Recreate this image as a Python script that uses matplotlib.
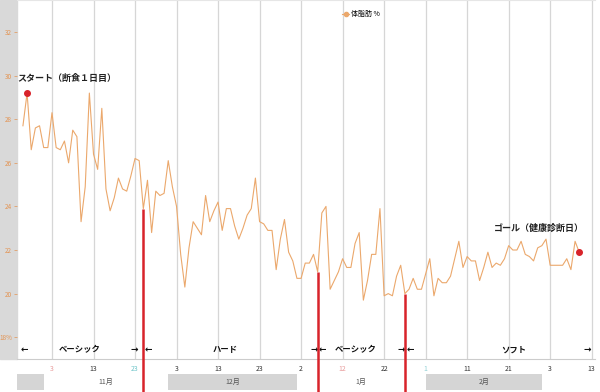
import matplotlib
matplotlib.use("Agg")
import matplotlib.pyplot as plt
import matplotlib.dates as mdates
from matplotlib.lines import Line2D
from matplotlib.patches import Rectangle
import pandas as pd
import numpy as np

plt.rcParams['font.family'] = ['Noto Sans CJK JP', 'DejaVu Sans']

# body fat % per day, 2020-10-27 .. 2021-03-10
oct_vals = [27.7, 29.2, 26.6, 27.6, 27.7]
nov_vals = [26.7, 26.7, 28.3, 26.7, 26.6, 27.0, 26.0, 27.5, 27.2, 23.3,
            24.9, 29.2, 26.4, 25.7, 28.5, 24.8, 23.8, 24.4, 25.3, 24.8,
            24.7, 25.4, 26.2, 26.1, 23.9, 25.2, 22.8, 24.7, 24.5, 24.6]
dec_vals = [26.1, 24.9, 24.0, 21.8, 20.3, 22.1, 23.3, 23.0, 22.7, 24.5,
            23.3, 23.8, 24.2, 22.9, 23.9, 23.9, 23.1, 22.5, 23.0, 23.6,
            23.9, 25.3, 23.3, 23.2, 22.9, 22.9, 21.1, 22.5, 23.4, 21.9, 21.5]
jan_vals = [20.7, 20.7, 21.4, 21.4, 21.8, 21.0, 23.7, 24.0, 20.2, 20.6,
            21.0, 21.6, 21.2, 21.2, 22.3, 22.8, 19.7, 20.6, 21.8, 21.8,
            23.9, 19.9, 20.0, 19.9, 20.8, 21.3, 20.0, 20.2, 20.7, 20.2, 20.2]
feb_vals = [20.9, 21.6, 19.9, 20.7, 20.5, 20.5, 20.8, 21.6, 22.4, 21.2,
            21.7, 21.5, 21.5, 20.6, 21.2, 21.9, 21.2, 21.4, 21.3, 21.6,
            22.2, 22.0, 22.0, 22.4, 21.8, 21.7, 21.5, 22.1]
mar_vals = [22.2, 22.5, 21.3, 21.3, 21.3, 21.3, 21.6, 21.1, 22.4, 21.9]

fat = np.array(oct_vals + nov_vals + dec_vals + jan_vals + feb_vals + mar_vals)
dates = pd.date_range("2020-10-27", periods=len(fat))

phase_changes = ["2020-11-25", "2021-01-06", "2021-01-27"]
phase_names = ["ベーシック", "ハード", "ベーシック", "ソフト"]
phase_centers = ["2020-11-09 18:00", "2020-12-14 16:00", "2021-01-15 05:00", "2021-02-22 03:00"]

tick_dates = pd.date_range("2020-11-03", periods=14, freq="10D")
tick_colors = {"2020-11-03": "#e89a9a", "2020-11-23": "#6cc4c8",
               "2021-01-12": "#e89a9a", "2021-02-01": "#8fd0d4"}

months = ["10月", "11月", "12月", "1月", "2月", "3月"]
month_starts = pd.date_range("2020-10-01", periods=7, freq="MS")

orange = "#eba86c"
red = "#d8232a"

fig = plt.figure(figsize=[6, 3.92], dpi=100)
W, H = 600, 392

# gray strip behind y labels
fig.add_artist(Rectangle((0, 33 / H), 17 / W, 359 / H, transform=fig.transFigure,
                         color="#d9d9d9", zorder=-1))

# month bar
mx = fig.add_axes([17 / W, 2 / H, 578 / W, 16 / H])
ax = fig.add_axes([17 / W, 33 / H, 578 / W, 359 / H])
ax.patch.set_alpha(0)

x0 = mdates.date2num(pd.Timestamp("2020-11-01"))
xlim = (x0 - 6.43, x0 + 132.8)

for i, m in enumerate(months):
    a, b = month_starts[i], month_starts[i + 1]
    if i % 2 == 0:
        mx.axvspan(a, b, color="#d5d5d5", lw=0)
    mid = mdates.date2num(a) + (mdates.date2num(b) - mdates.date2num(a)) / 2
    if xlim[0] < mid < xlim[1]:
        mx.text(mid, 0.5, m, ha="center", va="center", fontsize=5, color="#555555")
mx.set_xlim(xlim)
mx.set_ylim(0, 1)
mx.axis("off")

ax.plot(dates, fat, color=orange, lw=0.8)
ax.scatter([dates[1], dates[-1]], [fat[1], fat[-1]], s=16, color=red, zorder=5)

ax.text(dates[0] - pd.Timedelta(days=1.4), 29.85, "スタート（断食１日目）",
        fontsize=6.5, fontweight="bold", color="#222222", ha="left", va="center")
ax.text(dates[-1] + pd.Timedelta(days=1.2), 23.0, "ゴール（健康診断日）",
        fontsize=6.5, fontweight="bold", color="#222222", ha="right", va="center")

for d in phase_changes:
    d = pd.Timestamp(d)
    v = fat[list(dates).index(d)]
    ax.vlines(d, 15.4, v, color=red, lw=1.8, clip_on=False, zorder=6)

y_ph = 17.42
for name, c in zip(phase_names, phase_centers):
    ax.text(pd.Timestamp(c), y_ph, name, fontsize=6, fontweight="bold",
            ha="center", va="center", color="#111111")
arrows = [(-4.75, "←"), (21.8, "→"), (25.1, "←"), (65.1, "→"), (67.1, "←"),
          (86.1, "→"), (88.3, "←"), (130.9, "→")]
for off, s in arrows:
    ax.text(x0 + off, y_ph, s, fontsize=6.5, fontweight="bold", ha="center", va="center",
            color="#111111", family="DejaVu Sans")

ax.set_xlim(xlim)
ax.set_ylim(17.0, 33.47)
ax.set_xticks(tick_dates)
ax.set_xticklabels([str(d.day) for d in tick_dates], fontsize=5, color="#333333")
for lbl, d in zip(ax.get_xticklabels(), tick_dates):
    k = d.strftime("%Y-%m-%d")
    if k in tick_colors:
        lbl.set_color(tick_colors[k])
ax.tick_params(axis="x", length=0, pad=4)
ax.grid(axis="x", color="#d6d6d6", lw=0.9)

yt = list(range(18, 34, 2))
ax.set_yticks(yt)
ax.set_yticklabels(["18%"] + [str(v) for v in yt[1:]], fontsize=4.6, color="#e39352")
ax.tick_params(axis="y", length=2, width=0.5, color="#e39352", pad=1.5)

for s in ["left", "right"]:
    ax.spines[s].set_visible(False)
ax.spines["bottom"].set_color("#cccccc")
ax.spines["top"].set_color("#e6e6e6")

handle = Line2D([], [], color=orange, marker="o", markersize=3, lw=0.8)
ax.legend([handle], ["体脂肪 %"], loc="center", bbox_to_anchor=((361 - 17) / 578, 1 - 14 / 359),
          frameon=False, fontsize=5, handlelength=1.0, handletextpad=0.3, borderpad=0)

fig.savefig("out.png", dpi=100)
